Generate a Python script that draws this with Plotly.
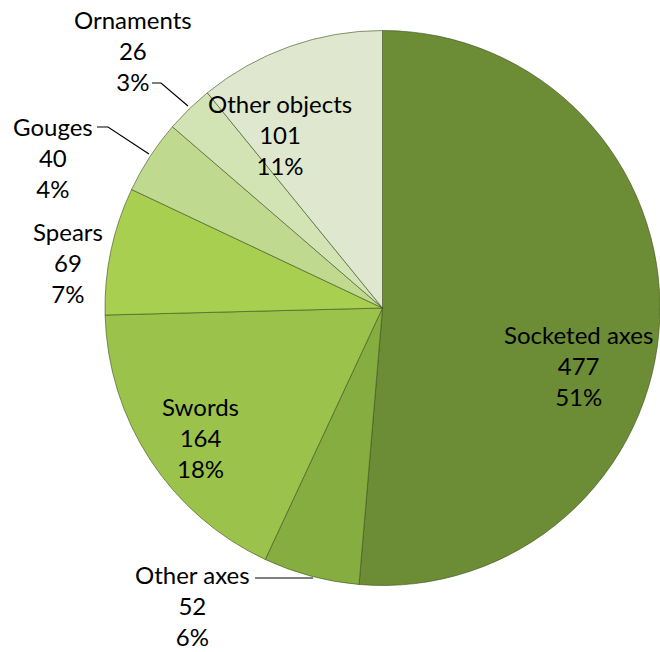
import plotly.graph_objects as go

categories = ["Socketed axes", "Other axes", "Swords", "Spears", "Gouges", "Ornaments", "Other objects"]
counts = [477, 52, 164, 69, 40, 26, 101]
colors = ["#6C8C36", "#86AD40", "#9BC34C", "#A9CF50", "#BFDA8E", "#D3E4B4", "#DFE8CE"]

total = sum(counts)
pcts = [round(100 * c / total) for c in counts]

# label placement (pixel coords from top-left) per category
label_pos = {
    "Socketed axes": (578, 365),
    "Other axes": (192, 605),
    "Swords": (200, 437),
    "Spears": (68, 262),
    "Gouges": (53, 157),
    "Ornaments": (133, 50),
    "Other objects": (280, 134),
}
W, H = 660, 652

fig = go.Figure(go.Pie(
    labels=categories,
    values=counts,
    sort=False,
    direction="clockwise",
    rotation=0,
    textinfo="none",
    hoverinfo="label+value+percent",
    marker=dict(colors=colors, line=dict(color="rgba(60,80,30,0.6)", width=1)),
    domain=dict(x=[105 / W, 1.0], y=[(H - 586) / H, (H - 30) / H]),
    showlegend=False,
))

annotations = []
for cat, n, p in zip(categories, counts, pcts):
    x, y = label_pos[cat]
    annotations.append(dict(
        x=x / W, y=1 - y / H, xref="paper", yref="paper",
        text=f"{cat}<br>{n}<br>{p}%", showarrow=False,
        font=dict(family="Lato", size=24, color="#000000"),
        xanchor="center", yanchor="middle", align="center",
    ))

def px_path(points):
    return "M " + " L ".join(f"{x / W} {1 - y / H}" for x, y in points)

leaders = [
    [(152, 83), (161, 83), (188, 106)],
    [(97, 127), (108, 127), (149, 154)],
    [(255, 578), (313, 578)],
]
shapes = [dict(type="path", xref="paper", yref="paper", path=px_path(p),
               line=dict(color="#000000", width=1.2)) for p in leaders]

fig.update_layout(
    width=W, height=H,
    margin=dict(l=0, r=0, t=0, b=0),
    paper_bgcolor="#FFFFFF",
    annotations=annotations,
    shapes=shapes,
)

fig.write_html("out.html")
